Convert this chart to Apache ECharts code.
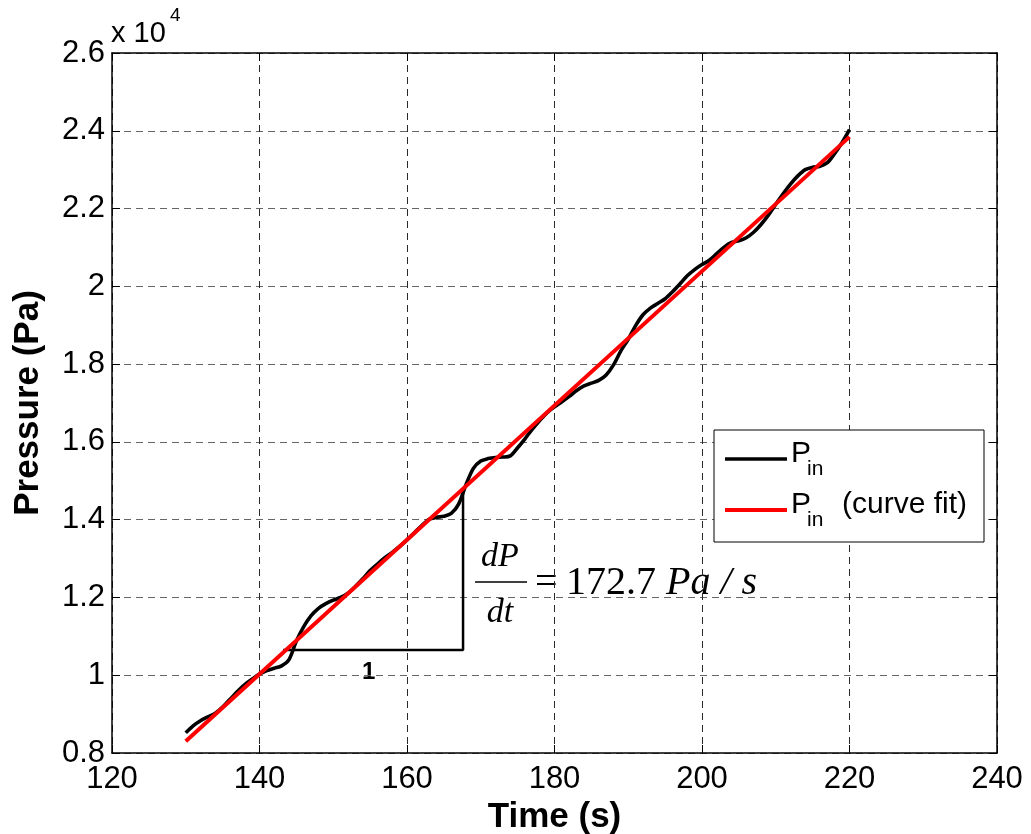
<!DOCTYPE html>
<html>
<head>
<meta charset="utf-8">
<script src="https://cdn.jsdelivr.net/npm/echarts@6/dist/echarts.min.js"></script>
<style>
  html, body { margin: 0; padding: 0; background: #fff; }
  #chart { width: 1031px; height: 834px; }
</style>
</head>
<body>
<div id="chart"></div>
<script>
// Measured inlet pressure over time (s, Pa)
const timeS = [130,131,132,133,134,135,136,137,138,139,140,141,142,143,144,145,146,147,148,149,
  150,151,152,153,154,155,156,157,158,159,160,161,162,163,164,165,166,167,168,169,
  170,171,172,173,174,175,176,177,178,179,180,181,182,183,184,185,186,187,188,189,
  190,191,192,193,194,195,196,197,198,199,200,201,202,203,204,205,206,207,208,209,
  210,211,212,213,214,215,216,217,218,219,220];
const pressurePa = [8520,8700,8830,8930,9020,9180,9380,9580,9760,9900,10030,10120,10180,10240,10400,10880,11250,11530,11720,11840,
  11930,12000,12110,12280,12480,12690,12860,13020,13160,13310,13480,13660,13850,14010,14060,14090,14160,14400,14900,15320,
  15510,15570,15600,15610,15640,15850,16080,16330,16550,16750,16900,17030,17170,17320,17440,17510,17580,17720,17980,18340,
  18640,18990,19270,19440,19560,19680,19860,20060,20270,20430,20560,20670,20840,21010,21130,21170,21250,21390,21590,21830,
  22110,22380,22630,22840,23000,23060,23090,23180,23420,23700,24030];

// Linear curve fit end points (slope 172.7 Pa/s)
const fitTime = [130, 220];
const fitPressure = [8300, 23843];

// Slope triangle corners
const triTime = [143.2, 167.6, 167.6];
const triPressure = [10650, 10650, 14770];

const xTicks = { min: 120, max: 240, step: 20 };
const yTicks = { min: 8000, max: 26000, step: 2000 };

const zip = (a, b) => a.map((v, i) => [v, b[i]]);

const chart = echarts.init(document.getElementById('chart'), null, { renderer: 'canvas' });

const sans = 'Liberation Sans, Arial, sans-serif';
const serif = 'Liberation Serif, Times New Roman, serif';

const gridDashV = { type: [7, 5], color: '#2a2a2a', width: 1 };
const gridDashH = { type: [7, 5], color: '#666', width: 1 };

const boxAxis = {
  axisLine: { show: true, onZero: false, lineStyle: { color: '#000', width: 1.5 } },
  axisTick: { show: true, inside: true, length: 8, lineStyle: { color: '#000', width: 1 } }
};

const option = {
  backgroundColor: '#fff',
  animation: false,
  grid: { left: 112, top: 53, right: 34, bottom: 81, containLabel: false, outerBoundsMode: 'none' },
  xAxis: [Object.assign({
    type: 'value', min: xTicks.min, max: xTicks.max, interval: xTicks.step,
    position: 'bottom',
    name: 'Time (s)', nameLocation: 'middle', nameGap: 42,
    nameTextStyle: { fontFamily: sans, fontWeight: 'bold', fontSize: 35, color: '#000' },
    axisLabel: { fontFamily: sans, fontSize: 31, color: '#000', margin: 11 },
    splitLine: { show: true, lineStyle: gridDashV }
  }, boxAxis), Object.assign({
    type: 'value', min: xTicks.min, max: xTicks.max, interval: xTicks.step,
    position: 'top',
    axisLabel: { show: false },
    splitLine: { show: false }
  }, boxAxis)],
  yAxis: [Object.assign({
    type: 'value', min: yTicks.min, max: yTicks.max, interval: yTicks.step,
    position: 'left',
    name: 'Pressure (Pa)', nameLocation: 'middle', nameGap: 66, nameRotate: 90,
    nameTextStyle: { fontFamily: sans, fontWeight: 'bold', fontSize: 35, color: '#000' },
    axisLabel: {
      fontFamily: sans, fontSize: 31, color: '#000', margin: 7,
      formatter: v => String(+(v / 10000).toFixed(2))
    },
    splitLine: { show: true, lineStyle: gridDashH }
  }, boxAxis), Object.assign({
    type: 'value', min: yTicks.min, max: yTicks.max, interval: yTicks.step,
    position: 'right',
    axisLabel: { show: false },
    splitLine: { show: false }
  }, boxAxis)],
  series: [{
    name: 'P_in',
    type: 'line',
    data: zip(timeS, pressurePa),
    smooth: 0.3,
    showSymbol: false,
    lineStyle: { color: '#000', width: 3.6 },
    z: 3
  }, {
    name: 'P_in (curve fit)',
    type: 'line',
    data: zip(fitTime, fitPressure),
    showSymbol: false,
    lineStyle: { color: '#ff0000', width: 4 },
    z: 4
  }, {
    name: 'slope',
    type: 'line',
    data: zip(triTime, triPressure),
    showSymbol: false,
    lineStyle: { color: '#000', width: 2.5 },
    z: 2
  }],
  graphic: [
    // exponent marker above the y axis
    { type: 'text', left: 111, top: 19, style: { text: 'x 10', fontFamily: sans, fontSize: 29, fill: '#000' } },
    { type: 'text', left: 170, top: 6, style: { text: '4', fontFamily: sans, fontSize: 19, fill: '#000' } },

    // slope annotation
    { type: 'text', left: 362, top: 660, style: { text: '1', fontFamily: sans, fontWeight: 'bold', fontSize: 24, fill: '#000' } },
    { type: 'text', x: 500, y: 557, style: { text: 'dP', fontFamily: serif, fontStyle: 'italic', fontSize: 34, fill: '#000', align: 'center', verticalAlign: 'middle' } },
    { type: 'line', shape: { x1: 475, y1: 582, x2: 527, y2: 582 }, style: { stroke: '#000', lineWidth: 1.6 } },
    { type: 'text', x: 500, y: 613, style: { text: 'dt', fontFamily: serif, fontStyle: 'italic', fontSize: 34, fill: '#000', align: 'center', verticalAlign: 'middle' } },
    { type: 'text', x: 535, y: 583, style: { text: '=', fontFamily: serif, fontSize: 40, fill: '#000', verticalAlign: 'middle' } },
    { type: 'text', x: 566, y: 583, style: {
        text: '{n|172.7 }{u|Pa / s}', fill: '#000', verticalAlign: 'middle',
        rich: {
          n: { fontFamily: serif, fontSize: 40, fill: '#000' },
          u: { fontFamily: serif, fontStyle: 'italic', fontSize: 40, fill: '#000' }
        }
      } },

    // legend box
    { type: 'rect', shape: { x: 714, y: 430, width: 270, height: 112 }, style: { fill: '#fff', stroke: '#000', lineWidth: 1 }, z: 10 },
    { type: 'line', shape: { x1: 725, y1: 459, x2: 787, y2: 459 }, style: { stroke: '#000', lineWidth: 3.6 }, z: 11 },
    { type: 'line', shape: { x1: 725, y1: 510, x2: 787, y2: 510 }, style: { stroke: '#ff0000', lineWidth: 4 }, z: 11 },
    { type: 'text', left: 791, top: 439, style: { text: 'P', fontFamily: sans, fontSize: 30, fill: '#000' }, z: 11 },
    { type: 'text', left: 807, top: 459, style: { text: 'in', fontFamily: sans, fontSize: 21, fill: '#000' }, z: 11 },
    { type: 'text', left: 791, top: 490, style: { text: 'P', fontFamily: sans, fontSize: 30, fill: '#000' }, z: 11 },
    { type: 'text', left: 807, top: 510, style: { text: 'in', fontFamily: sans, fontSize: 21, fill: '#000' }, z: 11 },
    { type: 'text', left: 842, top: 490, style: { text: '(curve fit)', fontFamily: sans, fontSize: 30, fill: '#000' }, z: 11 }
  ]
};

chart.setOption(option);
</script>
</body>
</html>
